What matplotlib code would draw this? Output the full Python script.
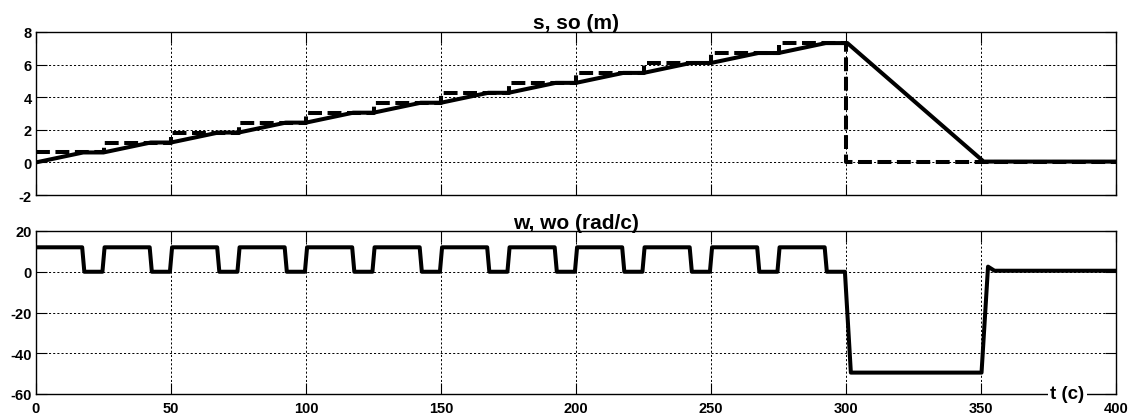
import matplotlib
matplotlib.use("Agg")
import matplotlib.pyplot as plt

plt.rcParams['font.family'] = ['Liberation Sans', 'DejaVu Sans']
plt.rcParams['font.weight'] = 'bold'
plt.rcParams['lines.scale_dashes'] = False
plt.rcParams['axes.unicode_minus'] = False

# ---- data: position s (solid), reference so (dashed) ----
s_t = [0, 17.5, 25, 42.5, 50, 67.5, 75, 92.5, 100, 117.5, 125, 142.5, 150,
       167.5, 175, 192.5, 200, 217.5, 225, 242.5, 250, 267.5, 275, 292.5,
       300.5, 351, 400]
s_v = [0, 0.61, 0.61, 1.22, 1.22, 1.83, 1.83, 2.44, 2.44, 3.05, 3.05, 3.66,
       3.66, 4.27, 4.27, 4.88, 4.88, 5.49, 5.49, 6.10, 6.10, 6.71, 6.71, 7.32,
       7.32, 0.05, 0.05]

so_t = [0, 25, 25, 50, 50, 75, 75, 100, 100, 125, 125, 150, 150, 175, 175,
        200, 200, 225, 225, 250, 250, 275, 275, 300, 300, 400]
so_v = [0.61, 0.61, 1.22, 1.22, 1.83, 1.83, 2.44, 2.44, 3.05, 3.05, 3.66, 3.66,
        4.27, 4.27, 4.88, 4.88, 5.49, 5.49, 6.10, 6.10, 6.71, 6.71, 7.32, 7.32,
        0.0, 0.0]

# ---- data: angular speed w ----
w_t = [0,
       17.1, 17.9, 24.6, 25.4,
       42.1, 42.9, 49.6, 50.4,
       67.1, 67.9, 74.6, 75.4,
       92.1, 92.9, 99.6, 100.4,
       117.1, 117.9, 124.6, 125.4,
       142.1, 142.9, 149.6, 150.4,
       167.1, 167.9, 174.6, 175.4,
       192.1, 192.9, 199.6, 200.4,
       217.1, 217.9, 224.6, 225.4,
       242.1, 242.9, 249.6, 250.4,
       267.1, 267.9, 274.6, 275.4,
       292.1, 292.9, 299.6, 301.8, 350.2, 352.6, 355.0, 400]
w_v = [12,
       12, 0, 0, 12,
       12, 0, 0, 12,
       12, 0, 0, 12,
       12, 0, 0, 12,
       12, 0, 0, 12,
       12, 0, 0, 12,
       12, 0, 0, 12,
       12, 0, 0, 12,
       12, 0, 0, 12,
       12, 0, 0, 12,
       12, 0, 0, 12,
       12, 0, 0, -49.5, -49.5, 2.5, 0.5, 0.5]

x_ticks = [0, 50, 100, 150, 200, 250, 300, 350, 400]
s_ticks = [-2, 0, 2, 4, 6, 8]
w_ticks = [-60, -40, -20, 0, 20]

W, H = 1129, 414
fig = plt.figure(figsize=(W / 100, H / 100), dpi=100)

ax1 = fig.add_axes([36 / W, 1 - 196 / H, 1080 / W, 163 / H])
ax2 = fig.add_axes([36 / W, 1 - 395 / H, 1080 / W, 163 / H])

lw = 2.9
ax1.plot(so_t, so_v, color='black', lw=lw, dashes=(10, 4), solid_capstyle='butt')
ax1.plot(s_t, s_v, color='black', lw=lw, solid_joinstyle='round')
ax2.plot(w_t, w_v, color='black', lw=lw, solid_joinstyle='round')

for ax, yt, yl in ((ax1, s_ticks, (-2, 8)), (ax2, w_ticks, (-60, 20))):
    ax.set_xlim(0, 400)
    ax.set_ylim(*yl)
    ax.set_xticks(x_ticks)
    ax.set_yticks(yt)
    ax.grid(True, color='black', linestyle=(0, (1.5, 1.5)), linewidth=0.7)
    ax.tick_params(direction='in', length=8, width=0.8, top=True, right=True,
                   labelsize=10.5, pad=3)
    for sp in ax.spines.values():
        sp.set_linewidth(1.0)
    for lab in ax.get_yticklabels() + ax.get_xticklabels():
        lab.set_fontweight('bold')

ax1.tick_params(labelbottom=False)
ax2.tick_params(axis='x', pad=5)

ax1.set_title('s, so (m)', fontsize=15, fontweight='bold', pad=2)
ax2.set_title('w, wo (rad/c)', fontsize=15, fontweight='bold', pad=2)

ax2.text(382, -60, 't (c)', fontsize=13.5, fontweight='bold', ha='center',
         va='center', bbox=dict(facecolor='white', edgecolor='none', pad=1.5),
         clip_on=False, zorder=10)

fig.savefig('out.png', dpi=100)
